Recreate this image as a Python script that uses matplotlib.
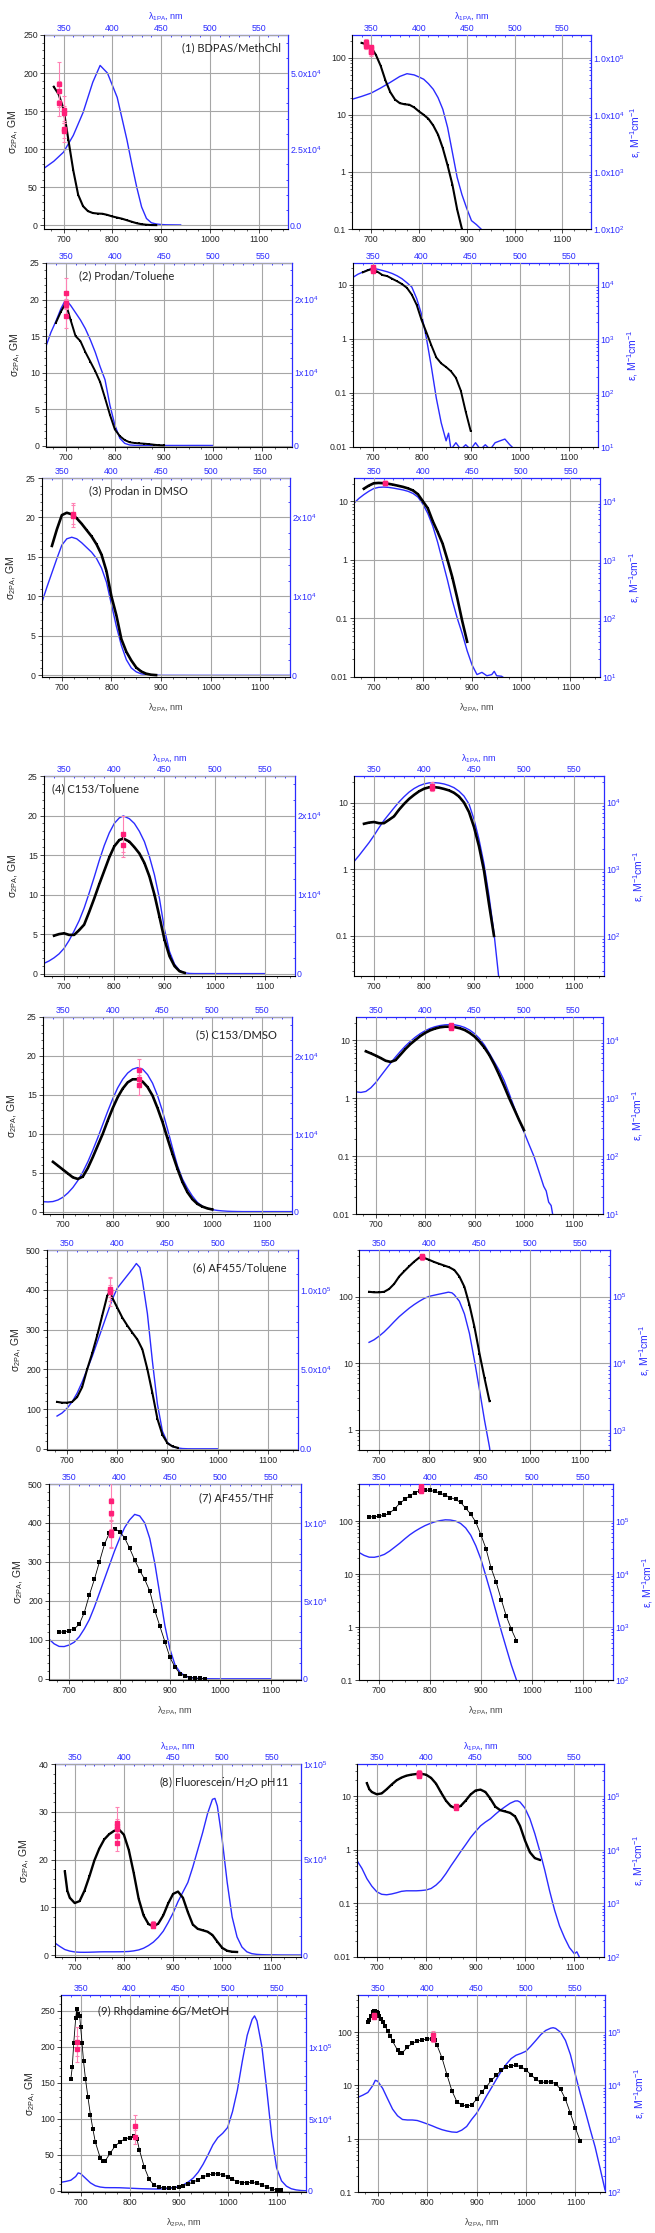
import numpy as np
import matplotlib.pyplot as plt
from matplotlib.ticker import (AutoMinorLocator, FixedLocator, FixedFormatter,
                               FuncFormatter, LogLocator, NullFormatter)

plt.rcParams['font.family'] = ['Liberation Sans', 'DejaVu Sans']
plt.rcParams['mathtext.default'] = 'regular'

BLUE = '#2b2bff'
PINK = '#ff1f78'
PINK_ERR = '#ff82b4'
GRID = '#a6a6a6'
TICK = '#262626'

# ---- data: sigma_2PA (GM) vs lambda_2PA, epsilon vs 2*lambda_1PA, reference points ----
# (1) BDPAS / methylene chloride
bdpas_x = [680, 690, 700, 710, 720, 730, 740, 750, 760, 770, 780, 790, 800, 810, 820, 830, 840, 850,
           860, 870, 880, 890]
bdpas_sigma = [182, 172, 153, 112, 72, 40, 25, 18.5, 16, 15.3, 15, 13.5, 11.5, 10, 8.5, 6.5, 4.5, 2.6,
               1.3, 0.6, 0.22, 0.1]
bdpas_eps_x = [660, 680, 700, 720, 740, 760, 775, 790, 800, 810, 820, 830, 840, 850, 860, 870, 880, 890,
               900, 910, 920, 930, 940]
bdpas_eps = [18700, 21000, 24000, 29500, 37000, 47000, 52500, 50000, 46000, 42000, 35000, 28000, 20000,
             12500, 6000, 2200, 800, 400, 230, 140, 120, 100, 80]
bdpas_ref_x = [690, 690, 690, 700, 700, 700, 700]
bdpas_ref_y = [185, 177, 160, 152, 147, 127, 124]
bdpas_ref_err = [30, 12, 16, 18, 10, 18, 10]

# (2) Prodan / toluene
prodtol_x = [680, 690, 700, 710, 720, 730, 740, 750, 760, 770, 780, 790, 800, 810, 820, 830, 840, 850,
             860, 870, 880, 890, 900]
prodtol_sigma = [16.8, 18.3, 19.5, 17.2, 15.0, 14.3, 12.8, 11.5, 10.2, 8.7, 6.5, 4.2, 2.2, 1.3, 0.75,
                 0.45, 0.35, 0.3, 0.25, 0.19, 0.11, 0.045, 0.02]
prodtol_eps_x = [660, 670, 680, 690, 700, 710, 720, 730, 740, 750, 760, 770, 780, 790, 800, 810, 820,
                 830, 840, 850, 855, 860, 870, 880, 890, 900, 910, 920, 930, 940, 950, 960, 970, 980,
                 990, 1000]
prodtol_eps = [13600, 15500, 17000, 18700, 20000, 19200, 18200, 17200, 16000, 14500, 12800, 10800, 9000,
               5500, 2800, 1000, 300, 80, 28, 13, 18, 9, 12, 9, 11, 9, 12, 9, 11, 9, 12, 13, 14, 11,
               9, 9]
prodtol_ref_x = [700, 700, 700, 700]
prodtol_ref_y = [20.9, 19.5, 19.3, 17.8]
prodtol_ref_err = [2.0, 0.6, 0.6, 1.7]

# (3) Prodan / DMSO
proddmso_x = [680, 690, 700, 710, 720, 730, 740, 750, 760, 770, 780, 790, 800, 810, 820, 830, 840, 850,
              860, 870, 880, 890]
proddmso_sigma = [16.4, 18.5, 20.3, 20.6, 20.4, 19.9, 19.2, 18.4, 17.6, 16.6, 15.3, 13.2, 10.0, 7.6,
                  4.6, 3.0, 1.9, 1.0, 0.5, 0.22, 0.09, 0.04]
proddmso_eps_x = [660, 670, 680, 690, 700, 710, 720, 730, 740, 750, 760, 770, 780, 790, 800, 810, 820,
                  830, 840, 850, 860, 870, 880, 890, 900, 910, 920, 930, 940, 945, 950, 960, 970, 1160]
proddmso_eps = [9300, 11200, 13000, 14800, 16500, 17300, 17500, 17300, 16800, 16200, 15600, 14800, 13600,
                11800, 9000, 6200, 3800, 2000, 950, 450, 200, 100, 55, 28, 16, 11, 12, 10.5, 11, 12.5,
                10.5, 10.3, 9, 9]
proddmso_ref_x = [722, 722]
proddmso_ref_y = [20.5, 20.2]
proddmso_ref_err = [1.3, 1.4]

# (4) C153 / toluene
c153tol_x = [680, 690, 700, 710, 720, 730, 740, 750, 760, 770, 780, 790, 800, 810, 818, 830, 840, 850,
             860, 870, 880, 890, 900, 910, 920, 930, 940]
c153tol_sigma = [4.8, 5.0, 5.1, 4.9, 4.9, 5.5, 6.2, 7.8, 9.5, 11.3, 13.0, 14.7, 16.1, 16.9, 17.1, 16.7,
                 16.0, 15.2, 14.0, 12.3, 10.0, 7.2, 4.3, 2.2, 0.95, 0.3, 0.1]
c153tol_eps_x = [660, 670, 680, 690, 700, 710, 720, 730, 740, 750, 760, 770, 780, 790, 800, 810, 818,
                 830, 840, 850, 860, 870, 880, 890, 900, 910, 920, 930, 940, 950, 960, 1100]
c153tol_eps = [1300, 1600, 2000, 2500, 3200, 4200, 5400, 6700, 8300, 10200, 12200, 14300, 16200, 17800,
               19000, 19700, 19950, 19600, 19000, 18000, 16700, 14800, 12500, 9500, 5600, 2800, 1200,
               400, 110, 22, 5, 3]
c153tol_ref_x = [817, 817]
c153tol_ref_y = [17.7, 16.3]
c153tol_ref_err = [2.3, 1.5]

# (5) C153 / DMSO
c153dmso_x = [680, 690, 700, 710, 720, 730, 740, 750, 760, 770, 780, 790, 800, 810, 820, 830, 840, 850,
              860, 870, 880, 890, 900, 910, 920, 930, 940, 950, 960, 970, 980, 990, 1000]
c153dmso_sigma = [6.4, 5.9, 5.4, 4.9, 4.4, 4.2, 4.5, 5.6, 7.0, 8.5, 10.0, 11.7, 13.3, 14.7, 15.8, 16.6,
                  17.0, 17.0, 16.7, 16.0, 14.9, 13.3, 11.5, 9.4, 7.4, 5.5, 3.8, 2.5, 1.6, 1.0, 0.65,
                  0.42, 0.28]
c153dmso_eps_x = [660, 670, 680, 690, 700, 710, 720, 730, 740, 750, 760, 770, 780, 790, 800, 810, 820,
                  830, 840, 850, 860, 870, 880, 890, 900, 910, 920, 930, 940, 950, 960, 970, 980, 990,
                  1000, 1010, 1020, 1030, 1040, 1045, 1050, 1055, 1060, 1160]
c153dmso_eps = [1280, 1250, 1300, 1500, 1850, 2400, 3100, 4000, 5100, 6400, 7900, 9500, 11200, 12900,
                14500, 15900, 17000, 17800, 18300, 18500, 18300, 17600, 16500, 14900, 12900, 10600,
                8200, 5900, 4200, 3000, 2000, 1200, 700, 420, 260, 160, 100, 55, 30, 25, 16, 14, 8, 5]
c153dmso_ref_x = [852, 852, 852]
c153dmso_ref_y = [18.2, 17.0, 16.3]
c153dmso_ref_err = [1.4, 1.0, 1.3]

# (6) AF455 / toluene
af455tol_x = [680, 690, 700, 710, 720, 730, 740, 750, 760, 770, 780, 785, 790, 800, 810, 820, 830, 840,
              850, 860, 870, 880, 890, 900, 910, 920]
af455tol_sigma = [118, 116, 116, 118, 130, 155, 200, 240, 285, 335, 385, 395, 380, 355, 330, 310, 292,
                  275, 250, 200, 140, 75, 35, 14, 6, 2.7]
af455tol_eps_x = [680, 690, 700, 710, 720, 730, 740, 750, 760, 770, 780, 790, 800, 810, 820, 830, 838,
                  845, 850, 860, 870, 880, 890, 900, 910, 920, 930, 940, 950, 1000]
af455tol_eps = [20600, 22500, 25500, 29500, 35000, 42000, 50000, 58000, 67000, 76000, 85000, 94000,
                101000, 105000, 109000, 113000, 116500, 114000, 106000, 85000, 55000, 28000, 11000,
                4000, 1400, 550, 150, 40, 10, 5]
af455tol_ref_x = [785, 785, 785]
af455tol_ref_y = [402, 398, 395]
af455tol_ref_err = [30, 15, 35]

# (7) AF455 / THF
af455thf_x = [680, 690, 700, 710, 720, 730, 740, 750, 760, 770, 780, 790, 800, 810, 820, 830, 840, 850,
              860, 870, 880, 890, 900, 910, 920, 930, 940, 950, 960, 970]
af455thf_sigma = [120, 120, 124, 128, 140, 170, 215, 255, 300, 345, 375, 385, 378, 362, 335, 305, 278,
                  255, 225, 175, 135, 95, 55, 30, 13, 7, 3.3, 1.6, 0.9, 0.55]
af455thf_eps_x = [660, 670, 680, 690, 700, 710, 720, 730, 740, 750, 760, 770, 780, 790, 800, 810, 820,
                  830, 840, 850, 860, 870, 880, 890, 900, 910, 920, 930, 940, 950, 960, 970, 980, 1000,
                  1100]
af455thf_eps = [25500, 22500, 20800, 20700, 21700, 23500, 27000, 32000, 38000, 46000, 55000, 64000,
                73000, 82000, 90000, 97000, 102000, 105500, 104500, 100000, 90000, 74000, 54000, 34000,
                19000, 9000, 4200, 1900, 850, 400, 190, 100, 45, 10, 5]
af455thf_ref_x = [783, 783, 783, 783]
af455thf_ref_y = [457, 425, 378, 370]
af455thf_ref_err = [50, 40, 40, 35]

# (8) Fluorescein / H2O pH11
fluor_x = [680, 685, 690, 700, 710, 720, 730, 740, 750, 760, 770, 780, 790, 800, 810, 820, 830, 840,
           850, 860, 870, 880, 890, 900, 910, 920, 930, 940, 950, 960, 970, 980, 990, 1000, 1010, 1020,
           1030]
fluor_sigma = [17.5, 13.5, 12, 10.9, 11.3, 13.5, 16.5, 19.8, 22.3, 24.2, 25.3, 26.0, 26.3, 25.2, 22.0,
               17.2, 11.8, 8.3, 6.5, 6.0, 6.6, 8.3, 10.8, 12.8, 13.3, 12.0, 9.0, 6.4, 5.5, 5.2, 4.9,
               4.2, 2.8, 1.5, 0.9, 0.7, 0.65]
fluor_eps_x = [660, 670, 680, 690, 700, 710, 720, 730, 740, 750, 760, 770, 780, 790, 800, 810, 820, 830,
               840, 850, 860, 870, 880, 890, 900, 910, 920, 930, 940, 950, 960, 970, 980, 985, 990,
               1000, 1010, 1020, 1030, 1040, 1050, 1060, 1070, 1080, 1090, 1100, 1105, 1110, 1120, 1160]
fluor_eps = [6300, 4500, 2900, 2100, 1650, 1480, 1450, 1500, 1580, 1680, 1720, 1720, 1720, 1740, 1780,
             1900, 2200, 2700, 3600, 5000, 6800, 9300, 12500, 17000, 22000, 28000, 33000, 38000, 46000,
             55000, 64000, 74000, 81500, 82000, 78000, 60000, 38000, 20000, 9500, 4200, 1700, 750, 380,
             230, 150, 115, 125, 100, 60, 30]
fluor_ref_x = [786, 786, 786, 786, 786, 860, 860]
fluor_ref_y = [27.7, 27.0, 26.3, 25.0, 23.5, 6.5, 6.1]
fluor_ref_err = [3.2, 1.5, 1.0, 1.5, 1.8, 0.6, 0.4]

# (9) Rhodamine 6G / methanol
r6g_x = [680, 683, 686, 690, 692, 695, 698, 700, 703, 706, 710, 715, 720, 725, 730, 740, 745, 750, 760,
         770, 780, 790, 800, 810, 815, 820, 830, 840, 850, 860, 870, 880, 890, 900, 910, 920, 930, 940,
         950, 960, 970, 980, 990, 1000, 1010, 1020, 1030, 1040, 1050, 1060, 1070, 1080, 1090, 1100,
         1110]
r6g_sigma = [155, 172, 205, 240, 252, 245, 243, 228, 205, 180, 155, 130, 106, 86, 68, 46, 41, 41.5, 52,
             62, 68, 72, 74, 76, 72, 57, 33, 16, 8, 5, 4.3, 4.1, 4.3, 5.5, 7.5, 9.5, 12.5, 15.5, 19.5,
             22, 23.5, 24, 22.5, 19.5, 16, 13, 11.5, 11.5, 11.8, 10.8, 8.5, 5.5, 3, 1.6, 0.9]
r6g_eps_x = [660, 670, 680, 690, 695, 700, 710, 720, 730, 740, 750, 760, 770, 780, 790, 800, 810, 820,
             830, 840, 850, 860, 870, 880, 890, 900, 910, 920, 930, 940, 950, 960, 970, 980, 990, 1000,
             1010, 1020, 1030, 1040, 1050, 1055, 1060, 1070, 1080, 1090, 1100, 1110, 1120, 1130, 1140,
             1150, 1160]
r6g_eps = [6000, 6600, 7400, 10000, 12500, 12000, 8800, 5600, 3600, 2700, 2300, 2250, 2250, 2200, 2050,
           1900, 1750, 1600, 1480, 1400, 1340, 1320, 1450, 1700, 2300, 3000, 4300, 6300, 9000, 13000,
           18500, 25000, 32000, 37000, 40000, 44000, 55000, 70000, 90000, 108000, 119000, 121500,
           118000, 100000, 70000, 38000, 16000, 7000, 3300, 1500, 700, 280, 110]
r6g_ref_x = [692, 692, 812, 812]
r6g_ref_y = [207, 197, 90, 75]
r6g_ref_err = [20, 18, 15, 10]

samples = [
    ('(1) BDPAS/MethChl', bdpas_x, bdpas_sigma, bdpas_eps_x, bdpas_eps,
     bdpas_ref_x, bdpas_ref_y, bdpas_ref_err),
    ('(2) Prodan/Toluene', prodtol_x, prodtol_sigma, prodtol_eps_x, prodtol_eps,
     prodtol_ref_x, prodtol_ref_y, prodtol_ref_err),
    ('(3) Prodan in DMSO', proddmso_x, proddmso_sigma, proddmso_eps_x, proddmso_eps,
     proddmso_ref_x, proddmso_ref_y, proddmso_ref_err),
    ('(4) C153/Toluene', c153tol_x, c153tol_sigma, c153tol_eps_x, c153tol_eps,
     c153tol_ref_x, c153tol_ref_y, c153tol_ref_err),
    ('(5) C153/DMSO', c153dmso_x, c153dmso_sigma, c153dmso_eps_x, c153dmso_eps,
     c153dmso_ref_x, c153dmso_ref_y, c153dmso_ref_err),
    ('(6) AF455/Toluene', af455tol_x, af455tol_sigma, af455tol_eps_x, af455tol_eps,
     af455tol_ref_x, af455tol_ref_y, af455tol_ref_err),
    ('(7) AF455/THF', af455thf_x, af455thf_sigma, af455thf_eps_x, af455thf_eps,
     af455thf_ref_x, af455thf_ref_y, af455thf_ref_err),
    ('(8) Fluorescein/H$_2$O pH11', fluor_x, fluor_sigma, fluor_eps_x, fluor_eps,
     fluor_ref_x, fluor_ref_y, fluor_ref_err),
    ('(9) Rhodamine 6G/MetOH', r6g_x, r6g_sigma, r6g_eps_x, r6g_eps,
     r6g_ref_x, r6g_ref_y, r6g_ref_err),
]

# ---- axis ranges / tick formats per row ----
LIN_Y = [(-5, 250), (-0.2, 25), (-0.2, 25), (-0.3, 25), (-0.3, 25), (-3, 500), (-3, 500),
         (-0.4, 40), (-1.5, 272)]
LIN_STEP = [50, 5, 5, 5, 5, 100, 100, 10, 50]
LIN_K = [250, 1000, 1000, 1000, 1000, 250, 250, 2500, 500]
LIN_RT = [[0, 2.5e4, 5e4]] + [[0, 1e4, 2e4]] * 4 + [[0, 5e4, 1e5]] * 4
LIN_RL = ([['0.0', '2.5x10$^4$', '5.0x10$^4$']] + [['0', '1x10$^4$', '2x10$^4$']] * 4 +
          [['0.0', '5.0x10$^4$', '1.0x10$^5$']] + [['0', '5x10$^4$', '1x10$^5$']] * 3)
LOG_Y = [(0.1, 250), (0.01, 25), (0.01, 25), (0.025, 25), (0.01, 25), (0.5, 500), (0.1, 500),
         (0.01, 40), (0.1, 500)]
LOG_K = [1000] * 7 + [1e4, 1000]
LOG_FMT = ['1.0x10$^{%d}$'] + ['10$^{%d}$'] * 8

# ---- layout in pixels ----
W, H = 655, 2233
ROW_Y = [(35, 229), (263, 447), (478, 677), (776, 976), (1017, 1214),
         (1250, 1450), (1484, 1680), (1764, 1957), (1995, 2192)]
LEFT_X = [(44, 288), (46, 292), (42, 290), (44, 295), (43, 292),
          (47, 298), (49, 301), (55, 301), (61, 306)]
RIGHT_X = [(352, 591), (353, 598), (354, 600), (354, 604), (356, 603),
           (359, 610), (359, 613), (357, 604), (358, 605)]
TXT = [(0.97, 7, 'right'), (0.135, 7, 'left'), (0.19, 7, 'left'), (0.03, 7, 'left'),
       (0.94, 12, 'right'), (0.955, 12, 'right'), (0.89, 8, 'right'), (0.955, 10, 'right'),
       (0.15, 10, 'left')]
BLACK_LW = [1.5, 1.4, 1.9, 1.9, 1.9, 1.5, 0.6, 1.7, 0.6]
BLACK_MS = [1.8, 1.8, 1.8, 1.8, 1.8, 1.8, 2.2, 1.8, 2.2]
EPS_OFF = [37] + [27] * 8
TOP_LABEL = {0, 3, 7}
BOTTOM_LABEL = {2, 6, 8}

fig = plt.figure(figsize=(6.55, 22.33), dpi=100)


def panel(row, side):
    name, x, sig, ex, eps, rx, ry, re = samples[row]
    xs = LEFT_X[row] if side == 0 else RIGHT_X[row]
    top, bot = ROW_Y[row]
    wpx, hpx = xs[1] - xs[0], bot - top
    ax = fig.add_axes([xs[0] / W, 1 - bot / H, wpx / W, hpx / H])
    ax2 = ax.twinx()
    ax.set_zorder(ax2.get_zorder() + 1)
    ax.patch.set_visible(False)
    log = side == 1
    if log:
        ax.set_yscale('log')
        ax2.set_yscale('log')
        lo, hi = LOG_Y[row]
        k = LOG_K[row]
    else:
        lo, hi = LIN_Y[row]
        k = LIN_K[row]
    ax.set_xlim(660, 1160)
    ax.set_ylim(lo, hi)
    ax2.set_ylim(lo * k, hi * k)

    ax2.plot(ex, eps, color=BLUE, lw=1.0)
    ax.plot(x, sig, color='black', lw=BLACK_LW[row], marker='s', ms=BLACK_MS[row], mew=0)
    ax.errorbar(rx, ry, yerr=re, fmt='s', ms=2.6, mfc=PINK, mec=PINK, ecolor=PINK_ERR,
                elinewidth=0.8, capsize=1.4, capthick=0.8, zorder=5)

    # spines
    for s in ('top', 'right'):
        ax.spines[s].set_visible(False)
    for s in ('left', 'bottom', 'top'):
        ax2.spines[s].set_visible(False)
    ax.spines['left'].set_linewidth(0.8)
    ax.spines['bottom'].set_linewidth(0.8)
    ax2.spines['right'].set_color(BLUE)
    ax2.spines['right'].set_linewidth(0.9)

    # bottom x axis
    ax.xaxis.set_major_locator(FixedLocator([700, 800, 900, 1000, 1100]))
    ax.xaxis.set_minor_locator(AutoMinorLocator(4))
    ax.tick_params(which='major', direction='out', length=3, width=0.6, labelsize=6.3,
                   colors=TICK, pad=1.5)
    ax.tick_params(which='minor', direction='out', length=1.6, width=0.5, colors=TICK)
    ax.grid(True, which='major', color=GRID, lw=0.8)

    # left / right y axes
    if log:
        dec = [10.0 ** e for e in range(-2, 3) if lo * 0.999 <= 10.0 ** e <= hi]
        ax.yaxis.set_major_locator(FixedLocator(dec))
        ax.yaxis.set_major_formatter(FuncFormatter(lambda v, p: '%g' % v))
        ax.yaxis.set_minor_locator(LogLocator(10, subs=np.arange(2, 10)))
        ax.yaxis.set_minor_formatter(NullFormatter())
        rdec = [10.0 ** e for e in range(1, 6) if lo * k * 0.999 <= 10.0 ** e <= hi * k]
        ax2.yaxis.set_major_locator(FixedLocator(rdec))
        ax2.yaxis.set_major_formatter(
            FixedFormatter([LOG_FMT[row] % round(np.log10(v)) for v in rdec]))
        ax2.yaxis.set_minor_locator(LogLocator(10, subs=np.arange(2, 10)))
        ax2.yaxis.set_minor_formatter(NullFormatter())
    else:
        ax.yaxis.set_major_locator(FixedLocator(np.arange(0, hi + 1e-9, LIN_STEP[row])))
        ax.yaxis.set_minor_locator(AutoMinorLocator(5))
        ax2.yaxis.set_major_locator(FixedLocator(LIN_RT[row]))
        ax2.yaxis.set_major_formatter(FixedFormatter(LIN_RL[row]))
        ax2.yaxis.set_minor_locator(AutoMinorLocator(5))
    ax2.tick_params(axis='y', which='both', direction='in', colors=BLUE, labelsize=6.3,
                    pad=1.5, width=0.6)
    ax2.tick_params(axis='y', which='major', length=3)
    ax2.tick_params(axis='y', which='minor', length=1.6)

    # top axis: one-photon wavelength
    sec = ax.secondary_xaxis('top', functions=(lambda v: v / 2, lambda v: v * 2))
    sec.xaxis.set_major_locator(FixedLocator([350, 400, 450, 500, 550]))
    sec.xaxis.set_minor_locator(AutoMinorLocator(5))
    sec.tick_params(axis='x', which='both', direction='in', colors=BLUE, labelsize=6.3,
                    pad=1.5, width=0.6)
    sec.tick_params(axis='x', which='major', length=3)
    sec.tick_params(axis='x', which='minor', length=1.6)
    sec.spines['top'].set_color(BLUE)
    sec.spines['top'].set_linewidth(0.9)

    if row in TOP_LABEL:
        sec.set_xlabel('λ$_{1PA}$, nm', fontsize=6.5, color=BLUE)
        sec.xaxis.set_label_coords(0.5, 1 + 16 / hpx, transform=ax.transAxes)
    if row in BOTTOM_LABEL:
        ax.set_xlabel('λ$_{2PA}$, nm', fontsize=6.5, color='#444444')
        ax.xaxis.set_label_coords(0.5, -24 / hpx)

    if side == 0:
        ax.set_ylabel('σ$_{2PA}$, GM', fontsize=7.5, color=TICK)
        ax.yaxis.set_label_coords(-24 / wpx, 0.5)
        fx, dy, ha = TXT[row]
        ax.text(fx, 1 - dy / hpx, name, transform=ax.transAxes, ha=ha, va='top',
                fontsize=8, color='#222222', family=['Lato', 'DejaVu Sans'], zorder=6)
    else:
        ax2.set_ylabel('ε, M$^{-1}$cm$^{-1}$', fontsize=7.5, color=BLUE)
        ax2.yaxis.set_label_coords(1 + EPS_OFF[row] / wpx, 0.5)


for r in range(len(samples)):
    panel(r, 0)
    panel(r, 1)

fig.savefig('out.png', dpi=100)
